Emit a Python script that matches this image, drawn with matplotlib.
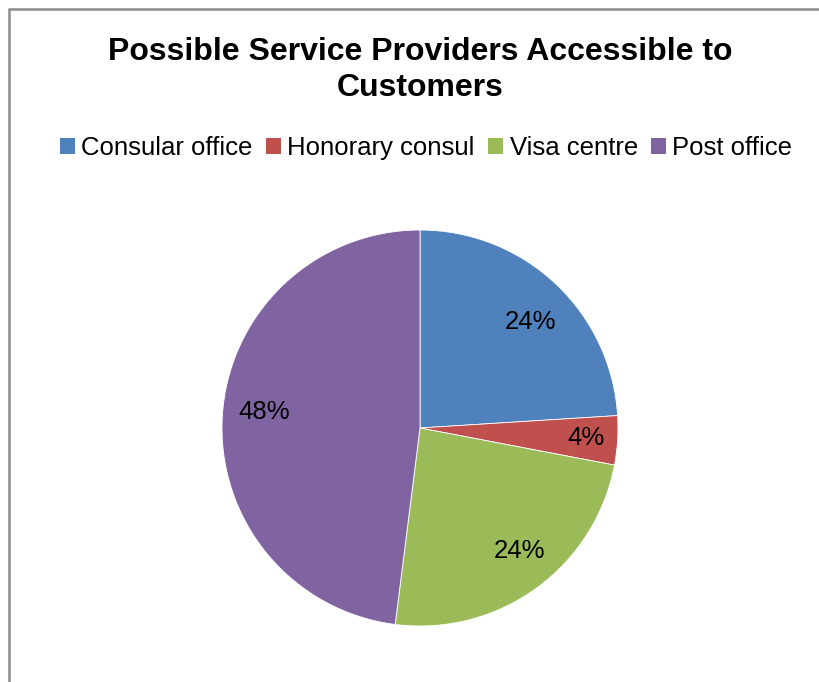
import matplotlib
matplotlib.use("Agg")
import matplotlib.pyplot as plt
from matplotlib.patches import Rectangle, Patch
import numpy as np

plt.rcParams['font.family'] = ['Liberation Sans', 'DejaVu Sans']

# Chart data
categories = ["Consular office", "Honorary consul", "Visa centre", "Post office"]
shares = [24, 4, 24, 48]
colors = ["#4F81BD", "#C0504D", "#9BBB59", "#8064A2"]
title = "Possible Service Providers Accessible to\nCustomers"

W, H = 820, 682
fig = plt.figure(figsize=(W / 100, H / 100), dpi=100)

# Chart-area frame (left and top edges visible)
fig.patches.append(Rectangle((9 / W, -0.05), 1.2, 1 - 9 / H + 0.05,
                             transform=fig.transFigure, fill=False,
                             edgecolor="#8c8c8c", linewidth=1.8))

# Pie axes: centre (420, 428) px, radius 198 px
cx, cy, r = 420, 428, 198
ax = fig.add_axes([(cx - r) / W, (H - cy - r) / H, 2 * r / W, 2 * r / H])
wedges, _ = ax.pie(shares, colors=colors, startangle=90, counterclock=False,
                   radius=1.0, wedgeprops=dict(edgecolor="white", linewidth=0.6))
ax.set_xlim(-1, 1)
ax.set_ylim(-1, 1)
ax.set_aspect("equal")
ax.axis("off")

# Percentage labels placed inside each wedge
label_radius = [0.77, 0.84, 0.80, 0.79]
angle_shift = [-3, 0, 3, -2.3]
for w, v, lr, da in zip(wedges, shares, label_radius, angle_shift):
    mid = np.deg2rad((w.theta1 + w.theta2) / 2 + da)
    ax.text(lr * np.cos(mid), lr * np.sin(mid), f"{v}%",
            ha="center", va="center", fontsize=18.5, color="black")

fig.text(cx / W, 1 - 70 / H, title, ha="center", va="center",
         fontsize=23, fontweight="bold", linespacing=1.22)

handles = [Patch(facecolor=c, edgecolor="none") for c in colors]
fig.legend(handles, categories, loc="center", bbox_to_anchor=(426 / W, 1 - 148 / H),
           ncol=4, frameon=False, fontsize=18.5, handlelength=0.6, handleheight=0.6,
           handletextpad=0.25, columnspacing=0.5, borderaxespad=0)

fig.savefig("out.png", dpi=100, facecolor="white")
